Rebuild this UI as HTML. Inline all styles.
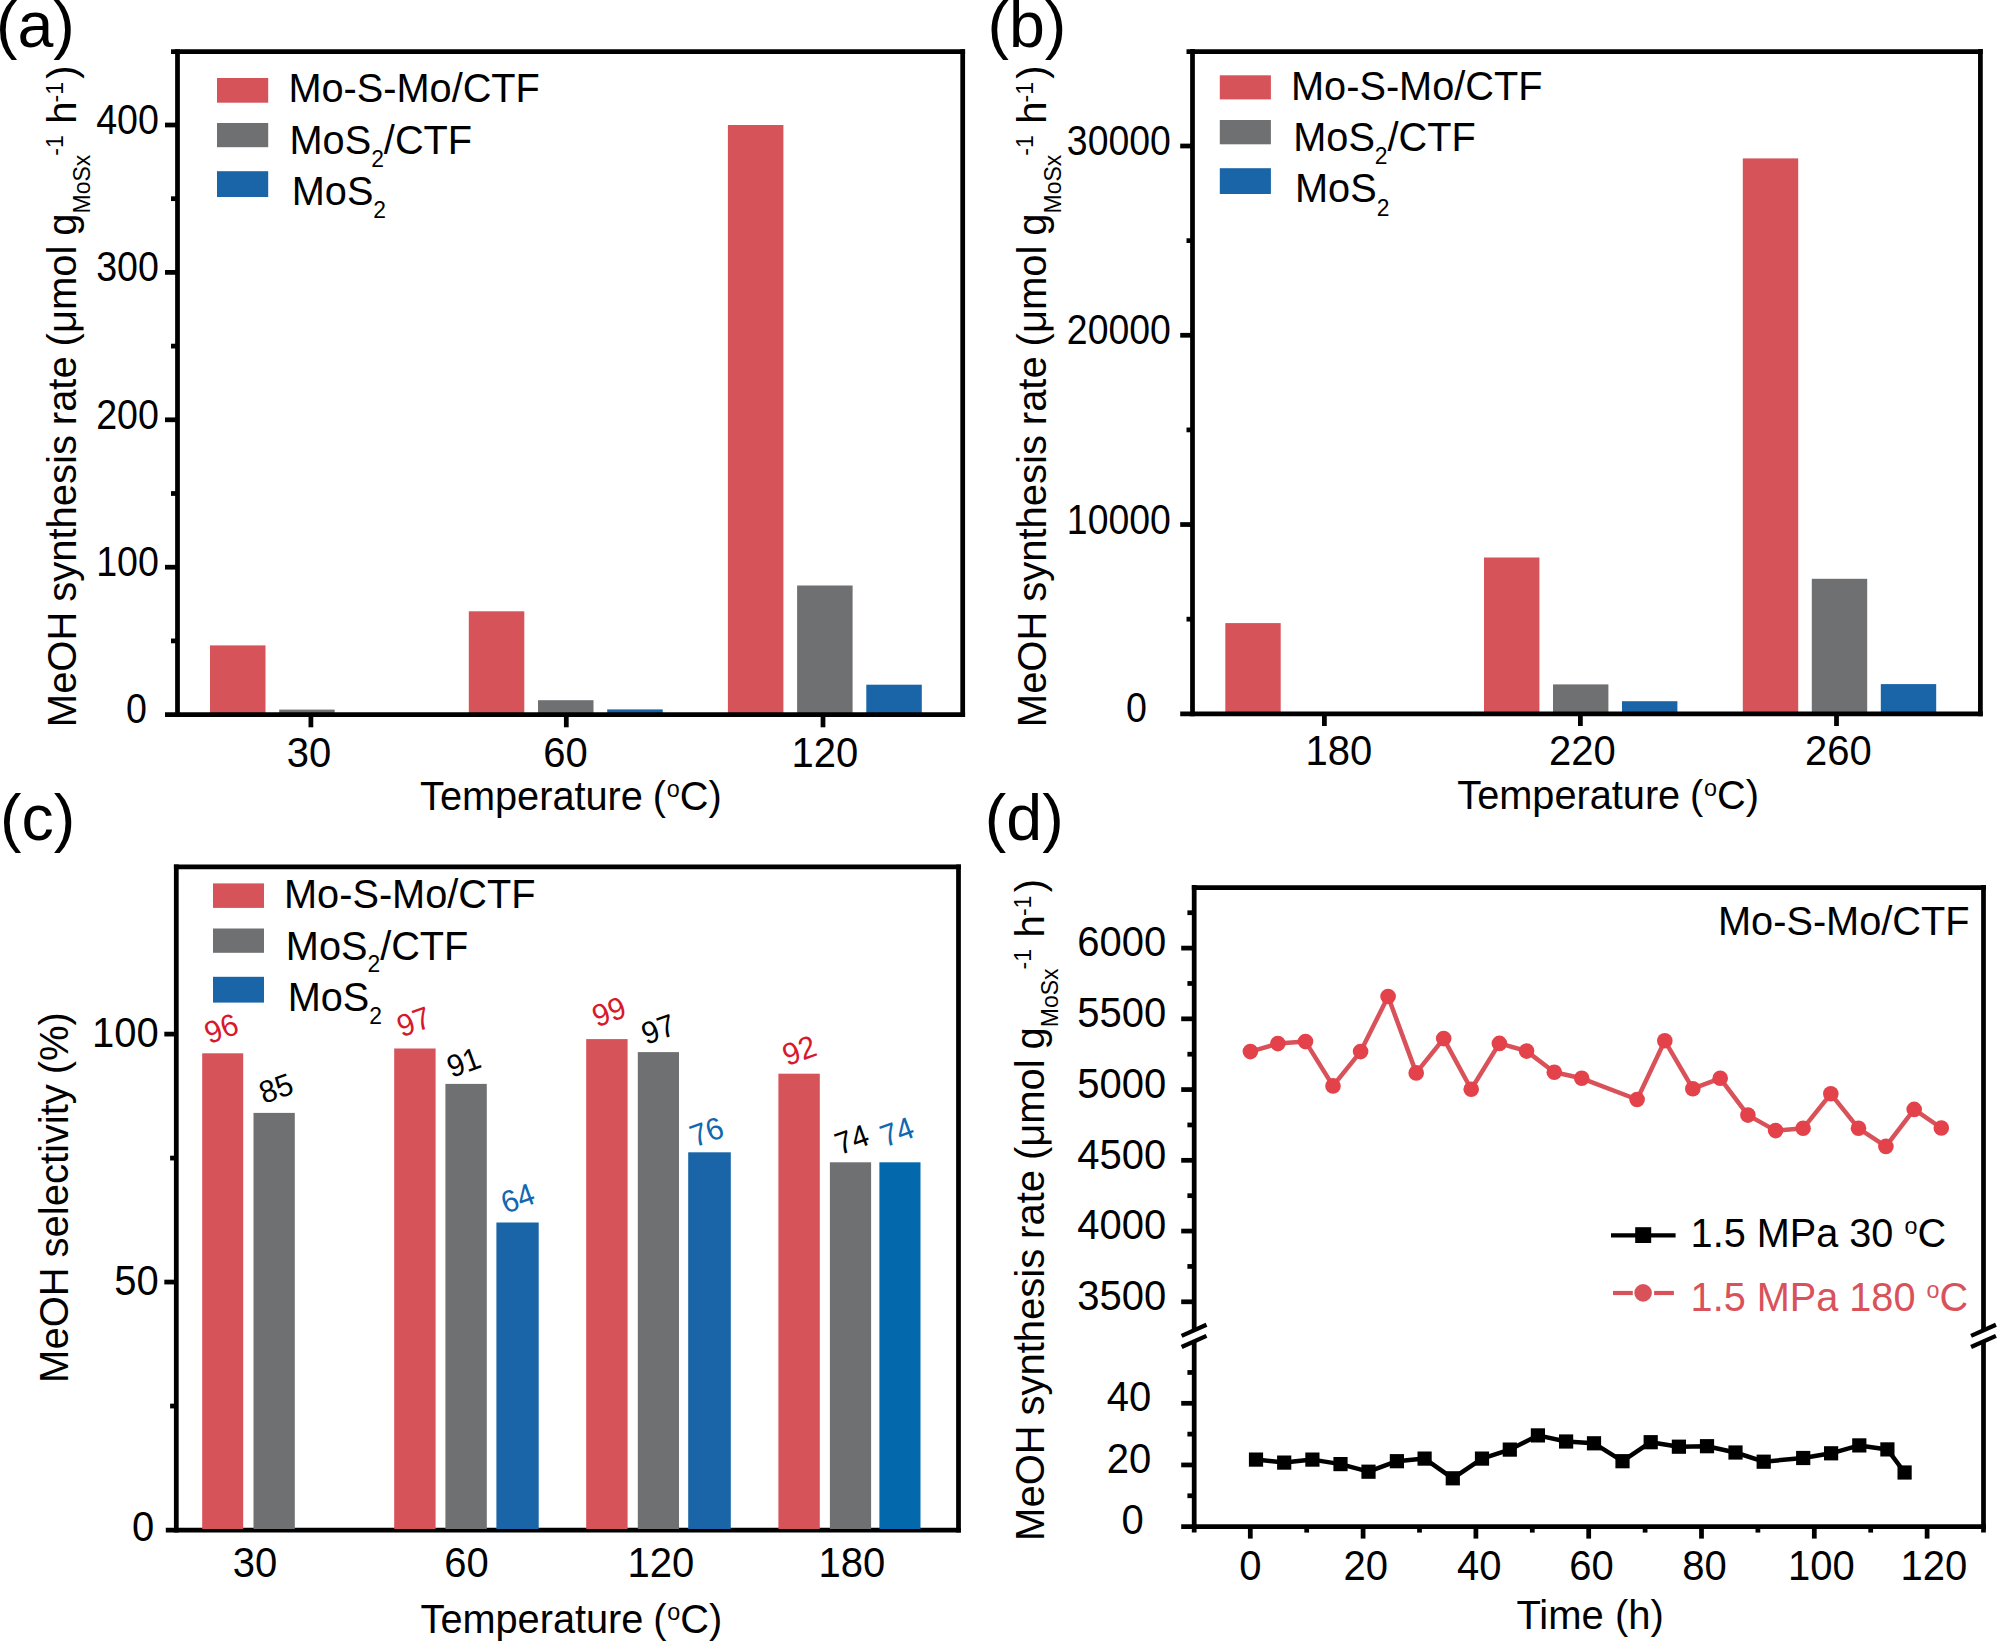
<!DOCTYPE html>
<html lang="en"><head><meta charset="utf-8"><title>MeOH synthesis figure</title>
<style>html,body{margin:0;padding:0;background:#fff;overflow:hidden}svg{display:block}text{font-family:"Liberation Sans",Arial,Helvetica,sans-serif}</style></head><body>
<svg width="1997" height="1644" viewBox="0 0 1997 1644">
<rect width="1997" height="1644" fill="#fff"/>
<g id="panel-a">
<rect x="210.00" y="645.40" width="55.50" height="69.20" fill="#d6535a"/>
<rect x="279.20" y="709.60" width="55.50" height="5.00" fill="#6f7072"/>
<rect x="468.80" y="611.30" width="55.50" height="103.30" fill="#d6535a"/>
<rect x="538.00" y="700.20" width="55.50" height="14.40" fill="#6f7072"/>
<rect x="607.20" y="709.40" width="55.50" height="5.20" fill="#1965a8"/>
<rect x="727.90" y="125.00" width="55.50" height="589.60" fill="#d6535a"/>
<rect x="797.10" y="585.50" width="55.50" height="129.10" fill="#6f7072"/>
<rect x="866.30" y="684.70" width="55.50" height="29.90" fill="#1965a8"/>
<line x1="177.50" y1="49.23" x2="177.50" y2="716.98" stroke="#000" stroke-width="4.75" />
<line x1="962.70" y1="49.23" x2="962.70" y2="716.98" stroke="#000" stroke-width="4.75" />
<line x1="171.00" y1="51.60" x2="965.08" y2="51.60" stroke="#000" stroke-width="4.75" />
<line x1="165.00" y1="714.60" x2="965.08" y2="714.60" stroke="#000" stroke-width="4.75" />
<line x1="165.00" y1="567.20" x2="177.50" y2="567.20" stroke="#000" stroke-width="4.75" />
<line x1="165.00" y1="419.80" x2="177.50" y2="419.80" stroke="#000" stroke-width="4.75" />
<line x1="165.00" y1="272.40" x2="177.50" y2="272.40" stroke="#000" stroke-width="4.75" />
<line x1="165.00" y1="125.00" x2="177.50" y2="125.00" stroke="#000" stroke-width="4.75" />
<line x1="171.00" y1="640.90" x2="177.50" y2="640.90" stroke="#000" stroke-width="4.75" />
<line x1="171.00" y1="493.50" x2="177.50" y2="493.50" stroke="#000" stroke-width="4.75" />
<line x1="171.00" y1="346.10" x2="177.50" y2="346.10" stroke="#000" stroke-width="4.75" />
<line x1="171.00" y1="198.70" x2="177.50" y2="198.70" stroke="#000" stroke-width="4.75" />
<line x1="310.90" y1="714.60" x2="310.90" y2="727.30" stroke="#000" stroke-width="4.75" />
<line x1="566.30" y1="714.60" x2="566.30" y2="727.30" stroke="#000" stroke-width="4.75" />
<line x1="823.00" y1="714.60" x2="823.00" y2="727.30" stroke="#000" stroke-width="4.75" />
<text transform="translate(96.21,576.00) scale(0.94,1.04)" font-size="40.0" >100</text>
<text transform="translate(96.21,428.60) scale(0.94,1.04)" font-size="40.0" >200</text>
<text transform="translate(96.21,281.20) scale(0.94,1.04)" font-size="40.0" >300</text>
<text transform="translate(96.21,133.80) scale(0.94,1.04)" font-size="40.0" >400</text>
<text transform="translate(126.02,723.10) scale(0.94,1.04)" font-size="40.0" >0</text>
<text transform="translate(286.86,767.00) scale(1.0,1.04)" font-size="40.0" >30</text>
<text transform="translate(543.22,767.00) scale(1.0,1.04)" font-size="40.0" >60</text>
<text transform="translate(791.58,767.00) scale(1.0,1.04)" font-size="40.0" >120</text>
<text transform="translate(420.03,809.60) scale(0.993,1.035)" font-size="40.0" word-spacing="-1.2">Temperature (<tspan font-size="23.5" dy="-12.6" dx="0.8">o</tspan><tspan dy="12.6">C)</tspan></text>
<text transform="translate(75.90,727.18) rotate(-90) scale(1,1.035)" font-size="40.0" word-spacing="-1.2">MeOH synthesis rate (μmol g<tspan font-size="23.0" dy="13.8">MoSx</tspan><tspan font-size="23.0" dy="-26.2" dx="-1">-1</tspan><tspan dy="12.4" dx="1.5"> h</tspan><tspan font-size="23.0" dy="-12.4" dx="-0.8">-1</tspan><tspan dy="12.4" dx="3.3">)</tspan></text>
<rect x="217.00" y="78.00" width="51.20" height="24.70" fill="#d6535a"/>
<rect x="217.00" y="123.00" width="51.20" height="24.20" fill="#6f7072"/>
<rect x="217.00" y="171.20" width="51.20" height="25.80" fill="#1965a8"/>
<text transform="translate(288.44,102.30) scale(0.993,1.035)" font-size="40.0" >Mo-S-Mo/CTF</text>
<text transform="translate(289.54,154.10) scale(0.993,1.035)" font-size="40.0" >MoS<tspan font-size="23.0" dy="12.2">2</tspan><tspan dy="-12.2">/CTF</tspan></text>
<text transform="translate(291.74,205.10) scale(0.993,1.035)" font-size="40.0" >MoS<tspan font-size="23.0" dy="12.8">2</tspan></text>
<text transform="translate(-4.00,47.30) scale(1.0,1.0)" font-size="64.5" >(a)</text>
</g>
<g id="panel-b">
<rect x="1225.30" y="623.10" width="55.40" height="90.70" fill="#d6535a"/>
<rect x="1484.00" y="557.50" width="55.40" height="156.30" fill="#d6535a"/>
<rect x="1553.00" y="684.40" width="55.40" height="29.40" fill="#6f7072"/>
<rect x="1622.00" y="701.20" width="55.40" height="12.60" fill="#1965a8"/>
<rect x="1742.80" y="158.40" width="55.40" height="555.40" fill="#d6535a"/>
<rect x="1811.80" y="578.80" width="55.40" height="135.00" fill="#6f7072"/>
<rect x="1880.80" y="684.10" width="55.40" height="29.70" fill="#1965a8"/>
<line x1="1192.50" y1="49.12" x2="1192.50" y2="716.17" stroke="#000" stroke-width="4.75" />
<line x1="1980.40" y1="49.12" x2="1980.40" y2="716.17" stroke="#000" stroke-width="4.75" />
<line x1="1186.50" y1="51.50" x2="1982.78" y2="51.50" stroke="#000" stroke-width="4.75" />
<line x1="1180.20" y1="713.80" x2="1982.78" y2="713.80" stroke="#000" stroke-width="4.75" />
<line x1="1180.20" y1="524.53" x2="1192.50" y2="524.53" stroke="#000" stroke-width="4.75" />
<line x1="1180.20" y1="335.27" x2="1192.50" y2="335.27" stroke="#000" stroke-width="4.75" />
<line x1="1180.20" y1="146.00" x2="1192.50" y2="146.00" stroke="#000" stroke-width="4.75" />
<line x1="1186.50" y1="619.17" x2="1192.50" y2="619.17" stroke="#000" stroke-width="4.75" />
<line x1="1186.50" y1="429.90" x2="1192.50" y2="429.90" stroke="#000" stroke-width="4.75" />
<line x1="1186.50" y1="240.63" x2="1192.50" y2="240.63" stroke="#000" stroke-width="4.75" />
<line x1="1324.40" y1="713.80" x2="1324.40" y2="726.00" stroke="#000" stroke-width="4.75" />
<line x1="1580.40" y1="713.80" x2="1580.40" y2="726.00" stroke="#000" stroke-width="4.75" />
<line x1="1836.50" y1="713.80" x2="1836.50" y2="726.00" stroke="#000" stroke-width="4.75" />
<text transform="translate(1066.85,533.53) scale(0.935,1.04)" font-size="40.0" >10000</text>
<text transform="translate(1066.85,344.27) scale(0.935,1.04)" font-size="40.0" >20000</text>
<text transform="translate(1066.85,155.00) scale(0.935,1.04)" font-size="40.0" >30000</text>
<text transform="translate(1126.12,722.10) scale(0.94,1.04)" font-size="40.0" >0</text>
<text transform="translate(1305.48,765.00) scale(1.0,1.04)" font-size="40.0" >180</text>
<text transform="translate(1548.90,765.00) scale(1.0,1.04)" font-size="40.0" >220</text>
<text transform="translate(1804.90,765.00) scale(1.0,1.04)" font-size="40.0" >260</text>
<text transform="translate(1457.33,808.60) scale(0.993,1.035)" font-size="40.0" word-spacing="-1.2">Temperature (<tspan font-size="23.5" dy="-12.6" dx="0.8">o</tspan><tspan dy="12.6">C)</tspan></text>
<text transform="translate(1046.30,727.18) rotate(-90) scale(1,1.035)" font-size="40.0" word-spacing="-1.2">MeOH synthesis rate (μmol g<tspan font-size="23.0" dy="13.8">MoSx</tspan><tspan font-size="23.0" dy="-26.2" dx="-1">-1</tspan><tspan dy="12.4" dx="1.5"> h</tspan><tspan font-size="23.0" dy="-12.4" dx="-0.8">-1</tspan><tspan dy="12.4" dx="3.3">)</tspan></text>
<rect x="1219.80" y="75.30" width="51.10" height="24.10" fill="#d6535a"/>
<rect x="1219.80" y="120.00" width="51.10" height="24.30" fill="#6f7072"/>
<rect x="1219.80" y="168.20" width="51.10" height="25.80" fill="#1965a8"/>
<text transform="translate(1291.04,100.00) scale(0.993,1.035)" font-size="40.0" >Mo-S-Mo/CTF</text>
<text transform="translate(1293.24,151.40) scale(0.993,1.035)" font-size="40.0" >MoS<tspan font-size="23.0" dy="12.2">2</tspan><tspan dy="-12.2">/CTF</tspan></text>
<text transform="translate(1295.04,202.40) scale(0.993,1.035)" font-size="40.0" >MoS<tspan font-size="23.0" dy="12.8">2</tspan></text>
<text transform="translate(987.50,46.80) scale(1.0,1.0)" font-size="64.5" >(b)</text>
</g>
<g id="panel-c">
<line x1="176.30" y1="864.52" x2="176.30" y2="1532.38" stroke="#000" stroke-width="4.75" />
<line x1="958.50" y1="864.52" x2="958.50" y2="1532.38" stroke="#000" stroke-width="4.75" />
<line x1="173.93" y1="866.90" x2="960.88" y2="866.90" stroke="#000" stroke-width="4.75" />
<line x1="165.80" y1="1530.00" x2="960.88" y2="1530.00" stroke="#000" stroke-width="4.75" />
<rect x="202.20" y="1053.30" width="41.00" height="475.70" fill="#d6535a"/>
<rect x="253.50" y="1112.90" width="41.30" height="416.10" fill="#6f7072"/>
<rect x="394.20" y="1048.50" width="41.40" height="480.50" fill="#d6535a"/>
<rect x="445.40" y="1083.90" width="41.40" height="445.10" fill="#6f7072"/>
<rect x="496.40" y="1222.50" width="42.30" height="306.50" fill="#1965a8"/>
<rect x="586.20" y="1039.10" width="41.40" height="489.90" fill="#d6535a"/>
<rect x="637.80" y="1052.10" width="41.20" height="476.90" fill="#6f7072"/>
<rect x="688.20" y="1152.30" width="42.60" height="376.70" fill="#1965a8"/>
<rect x="778.40" y="1073.70" width="41.40" height="455.30" fill="#d6535a"/>
<rect x="829.90" y="1162.30" width="41.20" height="366.70" fill="#6f7072"/>
<rect x="879.40" y="1162.30" width="41.10" height="366.70" fill="#0468ac"/>
<line x1="164.30" y1="1282.05" x2="176.30" y2="1282.05" stroke="#000" stroke-width="4.75" />
<line x1="164.30" y1="1034.10" x2="176.30" y2="1034.10" stroke="#000" stroke-width="4.75" />
<line x1="170.10" y1="1406.03" x2="176.30" y2="1406.03" stroke="#000" stroke-width="4.75" />
<line x1="170.10" y1="1158.07" x2="176.30" y2="1158.07" stroke="#000" stroke-width="4.75" />
<text transform="translate(131.88,1541.30) scale(1.0,1.04)" font-size="40.0" >0</text>
<text transform="translate(114.24,1295.05) scale(1.0,1.04)" font-size="40.0" >50</text>
<text transform="translate(92.00,1047.10) scale(1.0,1.04)" font-size="40.0" >100</text>
<text transform="translate(232.86,1576.50) scale(1.0,1.04)" font-size="40.0" >30</text>
<text transform="translate(444.32,1576.50) scale(1.0,1.04)" font-size="40.0" >60</text>
<text transform="translate(627.58,1576.50) scale(1.0,1.04)" font-size="40.0" >120</text>
<text transform="translate(818.58,1576.50) scale(1.0,1.04)" font-size="40.0" >180</text>
<text transform="translate(420.53,1632.60) scale(0.993,1.035)" font-size="40.0" word-spacing="-1.2">Temperature (<tspan font-size="23.5" dy="-12.6" dx="0.8">o</tspan><tspan dy="12.6">C)</tspan></text>
<text transform="translate(68.0,1382.88) rotate(-90) scale(1,1.035)" font-size="40.0" word-spacing="-1.2">MeOH selectivity (%)</text>
<rect x="213.00" y="883.40" width="51.00" height="24.50" fill="#d6535a"/>
<rect x="213.00" y="928.50" width="51.00" height="24.30" fill="#6f7072"/>
<rect x="213.00" y="976.80" width="51.00" height="25.80" fill="#1965a8"/>
<text transform="translate(284.04,908.30) scale(0.993,1.035)" font-size="40.0" >Mo-S-Mo/CTF</text>
<text transform="translate(285.84,959.60) scale(0.993,1.035)" font-size="40.0" >MoS<tspan font-size="23.0" dy="12.2">2</tspan><tspan dy="-12.2">/CTF</tspan></text>
<text transform="translate(287.64,1010.70) scale(0.993,1.035)" font-size="40.0" >MoS<tspan font-size="23.0" dy="12.8">2</tspan></text>
<text transform="translate(0.00,840.40) scale(1.0,1.0)" font-size="64.5" >(c)</text>
<text transform="translate(221.20,1028.40) rotate(-20) scale(1,1.04)" font-size="30" text-anchor="middle" fill="#d7192b" dy="10.4">96</text>
<text transform="translate(276.00,1088.20) rotate(-20) scale(1,1.04)" font-size="30" text-anchor="middle" dy="10.4">85</text>
<text transform="translate(413.80,1021.60) rotate(-20) scale(1,1.04)" font-size="30" text-anchor="middle" fill="#d7192b" dy="10.4">97</text>
<text transform="translate(463.60,1062.20) rotate(-20) scale(1,1.04)" font-size="30" text-anchor="middle" dy="10.4">91</text>
<text transform="translate(517.60,1198.10) rotate(-20) scale(1,1.04)" font-size="30" text-anchor="middle" fill="#1068b0" dy="10.4">64</text>
<text transform="translate(608.90,1011.60) rotate(-20) scale(1,1.04)" font-size="30" text-anchor="middle" fill="#d7192b" dy="10.4">99</text>
<text transform="translate(658.30,1029.10) rotate(-20) scale(1,1.04)" font-size="30" text-anchor="middle" dy="10.4">97</text>
<text transform="translate(706.60,1131.70) rotate(-20) scale(1,1.04)" font-size="30" text-anchor="middle" fill="#1068b0" dy="10.4">76</text>
<text transform="translate(799.20,1050.40) rotate(-20) scale(1,1.04)" font-size="30" text-anchor="middle" fill="#d7192b" dy="10.4">92</text>
<text transform="translate(851.80,1139.30) rotate(-20) scale(1,1.04)" font-size="30" text-anchor="middle" dy="10.4">74</text>
<text transform="translate(896.90,1131.70) rotate(-20) scale(1,1.04)" font-size="30" text-anchor="middle" fill="#1068b0" dy="10.4">74</text>
</g>
<g id="panel-d">
<line x1="1194.20" y1="885.12" x2="1194.20" y2="1330.35" stroke="#000" stroke-width="4.75" />
<line x1="1194.20" y1="1341.45" x2="1194.20" y2="1532.60" stroke="#000" stroke-width="4.75" />
<line x1="1983.50" y1="885.12" x2="1983.50" y2="1330.05" stroke="#000" stroke-width="4.75" />
<line x1="1983.50" y1="1341.15" x2="1983.50" y2="1532.60" stroke="#000" stroke-width="4.75" />
<line x1="1191.83" y1="887.50" x2="1985.88" y2="887.50" stroke="#000" stroke-width="4.75" />
<line x1="1181.20" y1="1526.60" x2="1985.88" y2="1526.60" stroke="#000" stroke-width="4.75" />
<line x1="1181.60" y1="1335.90" x2="1206.50" y2="1324.80" stroke="#000" stroke-width="4.3" />
<line x1="1181.60" y1="1347.00" x2="1206.50" y2="1335.90" stroke="#000" stroke-width="4.3" />
<line x1="1971.05" y1="1335.90" x2="1995.95" y2="1324.80" stroke="#000" stroke-width="4.3" />
<line x1="1971.05" y1="1347.00" x2="1995.95" y2="1335.90" stroke="#000" stroke-width="4.3" />
<line x1="1181.20" y1="1301.80" x2="1194.20" y2="1301.80" stroke="#000" stroke-width="4.75" />
<line x1="1181.20" y1="1231.06" x2="1194.20" y2="1231.06" stroke="#000" stroke-width="4.75" />
<line x1="1181.20" y1="1160.32" x2="1194.20" y2="1160.32" stroke="#000" stroke-width="4.75" />
<line x1="1181.20" y1="1089.58" x2="1194.20" y2="1089.58" stroke="#000" stroke-width="4.75" />
<line x1="1181.20" y1="1018.84" x2="1194.20" y2="1018.84" stroke="#000" stroke-width="4.75" />
<line x1="1181.20" y1="948.10" x2="1194.20" y2="948.10" stroke="#000" stroke-width="4.75" />
<line x1="1187.40" y1="1266.43" x2="1194.20" y2="1266.43" stroke="#000" stroke-width="4.75" />
<line x1="1187.40" y1="1195.69" x2="1194.20" y2="1195.69" stroke="#000" stroke-width="4.75" />
<line x1="1187.40" y1="1124.95" x2="1194.20" y2="1124.95" stroke="#000" stroke-width="4.75" />
<line x1="1187.40" y1="1054.21" x2="1194.20" y2="1054.21" stroke="#000" stroke-width="4.75" />
<line x1="1187.40" y1="983.47" x2="1194.20" y2="983.47" stroke="#000" stroke-width="4.75" />
<line x1="1187.40" y1="912.73" x2="1194.20" y2="912.73" stroke="#000" stroke-width="4.75" />
<line x1="1181.20" y1="1464.95" x2="1194.20" y2="1464.95" stroke="#000" stroke-width="4.75" />
<line x1="1181.20" y1="1403.30" x2="1194.20" y2="1403.30" stroke="#000" stroke-width="4.75" />
<line x1="1187.40" y1="1495.77" x2="1194.20" y2="1495.77" stroke="#000" stroke-width="4.75" />
<line x1="1187.40" y1="1434.12" x2="1194.20" y2="1434.12" stroke="#000" stroke-width="4.75" />
<line x1="1187.40" y1="1372.47" x2="1194.20" y2="1372.47" stroke="#000" stroke-width="4.75" />
<line x1="1250.30" y1="1526.60" x2="1250.30" y2="1538.60" stroke="#000" stroke-width="4.75" />
<line x1="1363.10" y1="1526.60" x2="1363.10" y2="1538.60" stroke="#000" stroke-width="4.75" />
<line x1="1475.90" y1="1526.60" x2="1475.90" y2="1538.60" stroke="#000" stroke-width="4.75" />
<line x1="1588.70" y1="1526.60" x2="1588.70" y2="1538.60" stroke="#000" stroke-width="4.75" />
<line x1="1701.50" y1="1526.60" x2="1701.50" y2="1538.60" stroke="#000" stroke-width="4.75" />
<line x1="1814.30" y1="1526.60" x2="1814.30" y2="1538.60" stroke="#000" stroke-width="4.75" />
<line x1="1927.10" y1="1526.60" x2="1927.10" y2="1538.60" stroke="#000" stroke-width="4.75" />
<line x1="1306.70" y1="1526.60" x2="1306.70" y2="1532.60" stroke="#000" stroke-width="4.75" />
<line x1="1419.50" y1="1526.60" x2="1419.50" y2="1532.60" stroke="#000" stroke-width="4.75" />
<line x1="1532.30" y1="1526.60" x2="1532.30" y2="1532.60" stroke="#000" stroke-width="4.75" />
<line x1="1645.10" y1="1526.60" x2="1645.10" y2="1532.60" stroke="#000" stroke-width="4.75" />
<line x1="1757.90" y1="1526.60" x2="1757.90" y2="1532.60" stroke="#000" stroke-width="4.75" />
<line x1="1870.70" y1="1526.60" x2="1870.70" y2="1532.60" stroke="#000" stroke-width="4.75" />
<text transform="translate(1077.16,1310.10) scale(1.0,1.04)" font-size="40.0" >3500</text>
<text transform="translate(1077.16,1239.36) scale(1.0,1.04)" font-size="40.0" >4000</text>
<text transform="translate(1077.16,1168.62) scale(1.0,1.04)" font-size="40.0" >4500</text>
<text transform="translate(1077.16,1097.88) scale(1.0,1.04)" font-size="40.0" >5000</text>
<text transform="translate(1077.16,1027.14) scale(1.0,1.04)" font-size="40.0" >5500</text>
<text transform="translate(1077.16,956.40) scale(1.0,1.04)" font-size="40.0" >6000</text>
<text transform="translate(1106.74,1411.00) scale(1.0,1.04)" font-size="40.0" >40</text>
<text transform="translate(1106.74,1473.20) scale(1.0,1.04)" font-size="40.0" >20</text>
<text transform="translate(1121.58,1534.40) scale(1.0,1.04)" font-size="40.0" >0</text>
<text transform="translate(1239.18,1580.20) scale(1.0,1.04)" font-size="40.0" >0</text>
<text transform="translate(1343.62,1580.20) scale(1.0,1.04)" font-size="40.0" >20</text>
<text transform="translate(1456.98,1580.20) scale(1.0,1.04)" font-size="40.0" >40</text>
<text transform="translate(1569.22,1580.20) scale(1.0,1.04)" font-size="40.0" >60</text>
<text transform="translate(1682.18,1580.20) scale(1.0,1.04)" font-size="40.0" >80</text>
<text transform="translate(1787.98,1580.20) scale(1.0,1.04)" font-size="40.0" >100</text>
<text transform="translate(1900.48,1580.20) scale(1.0,1.04)" font-size="40.0" >120</text>
<text transform="translate(1516.42,1628.80) scale(1.0,1.035)" font-size="40.0" >Time (h)</text>
<text transform="translate(1043.50,1540.88) rotate(-90) scale(1,1.035)" font-size="40.0" word-spacing="-1.2">MeOH synthesis rate (μmol g<tspan font-size="23.0" dy="13.8">MoSx</tspan><tspan font-size="23.0" dy="-26.2" dx="-1">-1</tspan><tspan dy="12.4" dx="1.5"> h</tspan><tspan font-size="23.0" dy="-12.4" dx="-0.8">-1</tspan><tspan dy="12.4" dx="3.3">)</tspan></text>
<text transform="translate(1718.04,934.60) scale(0.993,1.035)" font-size="40.0" >Mo-S-Mo/CTF</text>
<text transform="translate(984.80,840.40) scale(1.0,1.0)" font-size="64.5" >(d)</text>
<polyline fill="none" stroke="#d9525a" stroke-width="4.5" stroke-linejoin="round" points="1250.4,1051.6 1277.9,1043.6 1305.5,1041.6 1333.0,1085.9 1360.6,1051.6 1388.1,996.5 1416.2,1072.9 1443.7,1038.6 1471.2,1089.2 1499.4,1043.4 1526.6,1051.1 1554.3,1072.3 1581.7,1078.3 1637.1,1099.5 1664.8,1040.8 1692.8,1088.7 1720.2,1078.3 1747.9,1115.1 1775.6,1130.6 1803.1,1128.3 1830.8,1093.8 1858.5,1128.3 1885.9,1146.4 1914.2,1109.4 1941.3,1128.0"/>
<circle cx="1250.4" cy="1051.6" r="7.8" fill="#e3424b"/>
<circle cx="1277.9" cy="1043.6" r="7.8" fill="#e3424b"/>
<circle cx="1305.5" cy="1041.6" r="7.8" fill="#e3424b"/>
<circle cx="1333.0" cy="1085.9" r="7.8" fill="#e3424b"/>
<circle cx="1360.6" cy="1051.6" r="7.8" fill="#e3424b"/>
<circle cx="1388.1" cy="996.5" r="7.8" fill="#e3424b"/>
<circle cx="1416.2" cy="1072.9" r="7.8" fill="#e3424b"/>
<circle cx="1443.7" cy="1038.6" r="7.8" fill="#e3424b"/>
<circle cx="1471.2" cy="1089.2" r="7.8" fill="#e3424b"/>
<circle cx="1499.4" cy="1043.4" r="7.8" fill="#e3424b"/>
<circle cx="1526.6" cy="1051.1" r="7.8" fill="#e3424b"/>
<circle cx="1554.3" cy="1072.3" r="7.8" fill="#e3424b"/>
<circle cx="1581.7" cy="1078.3" r="7.8" fill="#e3424b"/>
<circle cx="1637.1" cy="1099.5" r="7.8" fill="#e3424b"/>
<circle cx="1664.8" cy="1040.8" r="7.8" fill="#e3424b"/>
<circle cx="1692.8" cy="1088.7" r="7.8" fill="#e3424b"/>
<circle cx="1720.2" cy="1078.3" r="7.8" fill="#e3424b"/>
<circle cx="1747.9" cy="1115.1" r="7.8" fill="#e3424b"/>
<circle cx="1775.6" cy="1130.6" r="7.8" fill="#e3424b"/>
<circle cx="1803.1" cy="1128.3" r="7.8" fill="#e3424b"/>
<circle cx="1830.8" cy="1093.8" r="7.8" fill="#e3424b"/>
<circle cx="1858.5" cy="1128.3" r="7.8" fill="#e3424b"/>
<circle cx="1885.9" cy="1146.4" r="7.8" fill="#e3424b"/>
<circle cx="1914.2" cy="1109.4" r="7.8" fill="#e3424b"/>
<circle cx="1941.3" cy="1128.0" r="7.8" fill="#e3424b"/>
<polyline fill="none" stroke="#000" stroke-width="4.5" stroke-linejoin="round" points="1256.0,1459.6 1284.2,1462.6 1312.4,1459.6 1340.5,1464.1 1368.5,1471.7 1396.9,1461.2 1424.6,1458.6 1452.8,1478.3 1482.0,1458.6 1509.8,1449.6 1537.9,1435.4 1566.1,1441.5 1594.0,1443.3 1622.5,1461.2 1650.7,1442.2 1678.9,1446.7 1707.0,1446.2 1735.5,1452.5 1763.7,1461.7 1803.2,1458.0 1831.1,1453.3 1859.3,1445.4 1887.4,1449.4 1904.6,1472.5"/>
<rect x="1248.90" y="1452.50" width="14.20" height="14.20" fill="#000"/>
<rect x="1277.10" y="1455.50" width="14.20" height="14.20" fill="#000"/>
<rect x="1305.30" y="1452.50" width="14.20" height="14.20" fill="#000"/>
<rect x="1333.40" y="1457.00" width="14.20" height="14.20" fill="#000"/>
<rect x="1361.40" y="1464.60" width="14.20" height="14.20" fill="#000"/>
<rect x="1389.80" y="1454.10" width="14.20" height="14.20" fill="#000"/>
<rect x="1417.50" y="1451.50" width="14.20" height="14.20" fill="#000"/>
<rect x="1445.70" y="1471.20" width="14.20" height="14.20" fill="#000"/>
<rect x="1474.90" y="1451.50" width="14.20" height="14.20" fill="#000"/>
<rect x="1502.70" y="1442.50" width="14.20" height="14.20" fill="#000"/>
<rect x="1530.80" y="1428.30" width="14.20" height="14.20" fill="#000"/>
<rect x="1559.00" y="1434.40" width="14.20" height="14.20" fill="#000"/>
<rect x="1586.90" y="1436.20" width="14.20" height="14.20" fill="#000"/>
<rect x="1615.40" y="1454.10" width="14.20" height="14.20" fill="#000"/>
<rect x="1643.60" y="1435.10" width="14.20" height="14.20" fill="#000"/>
<rect x="1671.80" y="1439.60" width="14.20" height="14.20" fill="#000"/>
<rect x="1699.90" y="1439.10" width="14.20" height="14.20" fill="#000"/>
<rect x="1728.40" y="1445.40" width="14.20" height="14.20" fill="#000"/>
<rect x="1756.60" y="1454.60" width="14.20" height="14.20" fill="#000"/>
<rect x="1796.10" y="1450.90" width="14.20" height="14.20" fill="#000"/>
<rect x="1824.00" y="1446.20" width="14.20" height="14.20" fill="#000"/>
<rect x="1852.20" y="1438.30" width="14.20" height="14.20" fill="#000"/>
<rect x="1880.30" y="1442.30" width="14.20" height="14.20" fill="#000"/>
<rect x="1897.50" y="1465.40" width="14.20" height="14.20" fill="#000"/>
<line x1="1611.00" y1="1235.40" x2="1675.60" y2="1235.40" stroke="#000" stroke-width="4.2" />
<rect x="1635.20" y="1227.20" width="16.00" height="15.80" fill="#000"/>
<text transform="translate(1690.58,1246.90) scale(0.992,1.035)" font-size="40.0" >1.5 MPa 30 <tspan font-size="23.5" dy="-12.6">o</tspan><tspan dy="12.6">C</tspan></text>
<line x1="1613.00" y1="1293.00" x2="1632.80" y2="1293.00" stroke="#d9525a" stroke-width="4.2" />
<line x1="1654.10" y1="1293.00" x2="1673.90" y2="1293.00" stroke="#d9525a" stroke-width="4.2" />
<circle cx="1643.1" cy="1292.9" r="8.8" fill="#d9525a"/>
<text transform="translate(1690.58,1310.90) scale(0.992,1.035)" font-size="40.0" fill="#d9525a" >1.5 MPa 180 <tspan font-size="23.5" dy="-12.6">o</tspan><tspan dy="12.6">C</tspan></text>
</g>
</svg></body></html>
